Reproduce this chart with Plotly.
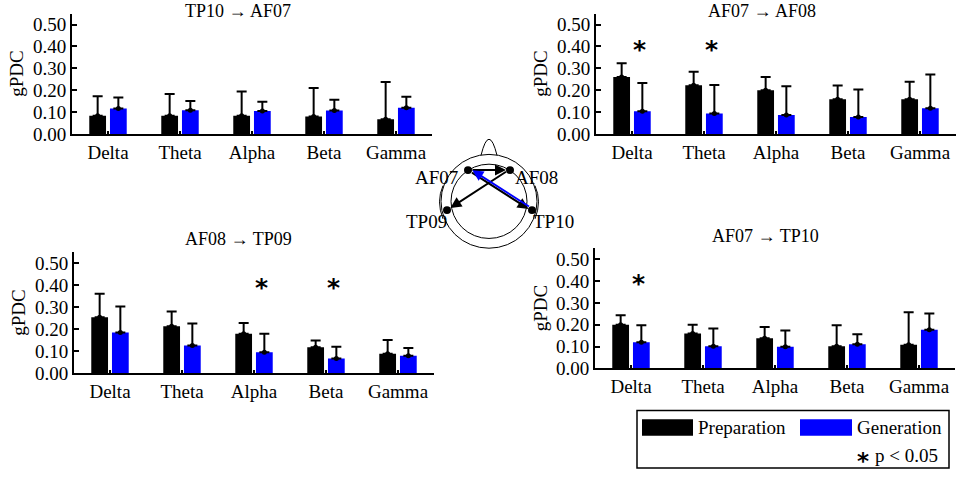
import plotly.graph_objects as go

# frequency bands on every panel
bands = ['Delta', 'Theta', 'Alpha', 'Beta', 'Gamma']

# TP10 -> AF07
tp10_af07_prep = [0.083, 0.083, 0.083, 0.080, 0.067]
tp10_af07_prep_sd = [0.089, 0.099, 0.111, 0.130, 0.170]
tp10_af07_gen = [0.116, 0.108, 0.105, 0.107, 0.120]
tp10_af07_gen_sd = [0.050, 0.042, 0.042, 0.049, 0.050]
tp10_af07_sig = []

# AF07 -> AF08
af07_af08_prep = [0.260, 0.222, 0.200, 0.159, 0.159]
af07_af08_prep_sd = [0.063, 0.062, 0.060, 0.062, 0.080]
af07_af08_gen = [0.104, 0.093, 0.086, 0.077, 0.117]
af07_af08_gen_sd = [0.129, 0.131, 0.132, 0.126, 0.155]
af07_af08_sig = ['Delta', 'Theta']

# AF08 -> TP09
af08_tp09_prep = [0.254, 0.214, 0.180, 0.118, 0.089]
af08_tp09_prep_sd = [0.107, 0.066, 0.048, 0.031, 0.062]
af08_tp09_gen = [0.185, 0.126, 0.096, 0.067, 0.080]
af08_tp09_gen_sd = [0.118, 0.100, 0.084, 0.054, 0.035]
af08_tp09_sig = ['Alpha', 'Beta']

# AF07 -> TP10
af07_tp10_prep = [0.200, 0.160, 0.138, 0.102, 0.108]
af07_tp10_prep_sd = [0.043, 0.040, 0.051, 0.096, 0.149]
af07_tp10_gen = [0.120, 0.102, 0.099, 0.111, 0.177]
af07_tp10_gen_sd = [0.078, 0.081, 0.075, 0.045, 0.074]
af07_tp10_sig = ['Delta']

star_level = 0.415

W, H = 957, 483
FONT = 'Liberation Serif'
BLUE = '#0000ff'


def px(x):
    return x / W


def py(y):
    return 1 - y / H


def label(text, x, y, size=19, **kw):
    d = dict(text=text, x=px(x), y=py(y), xref='paper', yref='paper', showarrow=False,
             xanchor='center', yanchor='middle', font=dict(family=FONT, size=size, color='black'))
    d.update(kw)
    return d


# (title, prep, prep_sd, gen, gen_sd, significant, x-domain px, y-domain px, title pos px)
panels = [
    ('TP10 \u2192 AF07', tp10_af07_prep, tp10_af07_prep_sd, tp10_af07_gen, tp10_af07_gen_sd,
     tp10_af07_sig, (72, 432), (14, 137), (238, 11)),
    ('AF07 \u2192 AF08', af07_af08_prep, af07_af08_prep_sd, af07_af08_gen, af07_af08_gen_sd,
     af07_af08_sig, (596, 956), (14, 137), (762, 11)),
    ('AF08 \u2192 TP09', af08_tp09_prep, af08_tp09_prep_sd, af08_tp09_gen, af08_tp09_gen_sd,
     af08_tp09_sig, (74, 434), (258, 382), (238, 245)),
    ('AF07 \u2192 TP10', af07_tp10_prep, af07_tp10_prep_sd, af07_tp10_gen, af07_tp10_gen_sd,
     af07_tp10_sig, (595, 955), (254, 377), (765, 242)),
]

fig = go.Figure()
annotations = []
shapes = []

for i, (title, prep, prep_sd, gen, gen_sd, sig, xd, yd, tpos) in enumerate(panels):
    n = '' if i == 0 else str(i + 1)
    xa, ya = 'x' + n, 'y' + n
    for grp, vals, sd, col in [('p', prep, prep_sd, 'black'), ('g', gen, gen_sd, BLUE)]:
        fig.add_trace(go.Bar(
            x=bands, y=vals, marker=dict(color=col, line=dict(width=0)),
            offsetgroup=grp, xaxis=xa, yaxis=ya, showlegend=False,
            error_y=dict(type='data', array=sd, symmetric=False, arrayminus=[0] * len(sd),
                         color='black', thickness=2, width=5)))
    # small dots where the error bars start
    for grp, vals in [('p', prep), ('g', gen)]:
        fig.add_trace(go.Scatter(
            x=bands, y=vals, mode='markers', offsetgroup=grp, xaxis=xa, yaxis=ya,
            marker=dict(color='black', size=5), showlegend=False, hoverinfo='skip'))

    axis_common = dict(showline=True, linecolor='black', linewidth=2, showgrid=False,
                       zeroline=False, ticks='inside', tickcolor='black',
                       tickfont=dict(family=FONT, size=19, color='black'))
    fig.update_layout({
        'xaxis' + n: dict(axis_common, domain=[px(xd[0]), px(xd[1])], anchor=ya,
                          ticklen=3, tickwidth=2, type='category', range=[-0.5, 4.5]),
        'yaxis' + n: dict(axis_common, domain=[py(yd[1]), py(yd[0])], anchor=xa,
                          range=[0, 0.55], dtick=0.1, tickformat='.2f', ticklen=5,
                          tickwidth=2),
    })
    annotations.append(label(title, tpos[0], tpos[1], size=18))
    annotations.append(label('gPDC', xd[0] - 55, (yd[0] + yd[1]) / 2, textangle=-90))
    for band in sig:
        annotations.append(dict(text='<b>*</b>', x=band, y=star_level, xref=xa, yref=ya,
                                showarrow=False, xshift=7, yshift=-6,
                                font=dict(family='DejaVu Sans', size=25, color='black')))

# head diagram
cx, cy = 489, 206
for r in (48, 38):
    shapes.append(dict(type='circle', xref='paper', yref='paper',
                       x0=px(cx - r), x1=px(cx + r), y0=py(cy + r), y1=py(cy - r),
                       line=dict(color='black', width=1)))


def path(points, cmd):
    return cmd.format(*[v for p in points for v in (px(p[0]), py(p[1]))])


shapes.append(dict(type='path', xref='paper', yref='paper',
                   path=path([(481, 159), (489, 126), (497, 159)], 'M {} {} Q {} {} {} {}'),
                   line=dict(color='black', width=1)))
for side in (-1, 1):
    shapes.append(dict(type='path', xref='paper', yref='paper',
                       path=path([(cx + side * 46, 190), (cx + side * 53, 206), (cx + side * 46, 224)],
                                 'M {} {} Q {} {} {} {}'),
                       line=dict(color='black', width=1)))

electrodes = {'AF07': (468, 174), 'AF08': (510, 174), 'TP09': (447, 215), 'TP10': (532, 215)}
label_pos = {'AF07': (436, 182), 'AF08': (536, 182), 'TP09': (426, 227), 'TP10': (553, 227)}

links = [('AF07', 'AF08', 'black', (0, 0)), ('AF08', 'TP09', 'black', (0, 0)),
         ('AF07', 'TP10', 'black', (0, 1)), ('TP10', 'AF07', BLUE, (1, -2))]
for src, dst, col, off in links:
    hx, hy = electrodes[dst]
    tx, ty = electrodes[src]
    annotations.append(dict(x=px(hx + off[0]), y=py(hy + off[1]), xref='paper', yref='paper',
                            ax=tx - hx, ay=ty - hy, axref='pixel', ayref='pixel', text='',
                            showarrow=True, arrowhead=2, arrowsize=1.1, arrowwidth=2,
                            arrowcolor=col, standoff=4, startstandoff=3))

for name, (ex, ey) in electrodes.items():
    shapes.append(dict(type='circle', xref='paper', yref='paper',
                       x0=px(ex - 4), x1=px(ex + 4), y0=py(ey + 4), y1=py(ey - 4),
                       fillcolor='black', line=dict(width=0)))
for name, (lx, ly) in label_pos.items():
    annotations.append(label(name, lx, ly))

# legend box
shapes.append(dict(type='rect', xref='paper', yref='paper', x0=px(637), x1=px(949),
                   y0=py(479), y1=py(420), line=dict(color='black', width=1.5)))
shapes.append(dict(type='rect', xref='paper', yref='paper', x0=px(642), x1=px(693),
                   y0=py(446), y1=py(429), fillcolor='black', line=dict(width=0)))
shapes.append(dict(type='rect', xref='paper', yref='paper', x0=px(800), x1=px(852),
                   y0=py(446), y1=py(429), fillcolor=BLUE, line=dict(width=0)))
annotations.append(label('Preparation', 696, 437, xanchor='left'))
annotations.append(label('Generation', 855, 437, xanchor='left'))
annotations.append(label('p < 0.05', 940, 466, xanchor='right'))
annotations.append(dict(text='<b>*</b>', x=px(863), y=py(466), xref='paper', yref='paper',
                        showarrow=False, xanchor='center', yanchor='middle', yshift=-6,
                        font=dict(family='DejaVu Sans', size=23, color='black')))

fig.update_layout(
    width=W, height=H, margin=dict(l=0, r=0, t=0, b=0),
    paper_bgcolor='white', plot_bgcolor='white',
    barmode='group', bargap=0.425, bargroupgap=0.19,
    scattermode='group', scattergap=0.425,
    annotations=annotations, shapes=shapes,
    font=dict(family=FONT, color='black'),
)

fig.write_html('out.html', config={'displayModeBar': False},
               post_script="document.body.style.margin='0';")
